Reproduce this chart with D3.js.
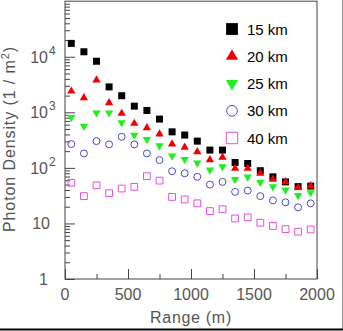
<!DOCTYPE html>
<html>
<head>
<meta charset="utf-8">
<script src="https://cdn.jsdelivr.net/npm/d3@7"></script>
<style>
    html, body { margin: 0; padding: 0; background: #fff; }
    svg { display: block; }
    .tick-label { font-family: "Liberation Sans", Arial, sans-serif; fill: #555; }
    .axis-title { font-family: "Liberation Sans", Arial, sans-serif; fill: #555; font-size: 16px; }
    .legend-label { font-family: "Liberation Sans", Arial, sans-serif; fill: #000; font-size: 15px; }
</style>
</head>
<body>
<div id="chart"></div>
<script>
const ranges = [50, 150, 250, 350, 450, 550, 650, 750, 850, 950, 1050, 1150, 1250, 1350, 1450, 1550, 1650, 1750, 1850, 1950];

const km15 = [17400, 12300, 8300, 2870, 1990, 1290, 1080, 755, 445, 390, 303, 209, 209, 125, 120, 89, 69, 56, 46, 47];
const km20 = [2400, 1820, 3800, 1480, 955, 630, 525, 405, 268, 234, 195, 140, 155, 98, 98, 80, 62, 56, 44, 47];
const km25 = [810, 565, 980, 980, 650, 390, 325, 250, 165, 142, 123, 92, 105, 62, 69, 55, 46, 40, 32, 36];
const km30 = [268, 182, 303, 265, 363, 265, 182, 138, 87, 80, 69, 50, 56, 37, 39, 31, 26, 24, 19.5, 23];
const km40 = [54, 31, 48.5, 35, 42.5, 45.5, 71, 59, 30, 27, 23, 16.7, 18, 12.3, 12.9, 10.3, 9, 7.9, 7.1, 7.8];

const seriesNames = ["15 km", "20 km", "25 km", "30 km", "40 km"];

const xTicks = [0, 500, 1000, 1500, 2000];
const xMinorTicks = [250, 750, 1250, 1750];
const yTickExponents = [0, 1, 2, 3, 4];

const width = 343;
const height = 331;

const x = d3.scaleLinear().domain([0, 2000]).range([65, 317]);
const y = d3.scaleLog().domain([1, 1e5]).range([279, 1.2]);

// marker styles per series
const styles = [
    { values: km15, shape: d3.symbolSquare, size: 49, legendSize: 140, fill: "#000", stroke: "none", rotate: 0 },
    { values: km20, shape: d3.symbolTriangle, size: 30, legendSize: 64, fill: "#f00000", stroke: "none", rotate: 0 },
    { values: km25, shape: d3.symbolTriangle, size: 30, legendSize: 64, fill: "#1ef01e", stroke: "none", rotate: 180 },
    { values: km30, shape: d3.symbolCircle, size: 38, legendSize: 90, fill: "none", stroke: "#4a4ac8", rotate: 0 },
    { values: km40, shape: d3.symbolSquare, size: 46, legendSize: 130, fill: "none", stroke: "#e050e0", rotate: 0 }
];

const svg = d3.select("#chart")
    .append("svg")
    .attr("width", width)
    .attr("height", height);

// outer picture border
svg.append("line")
    .attr("x1", 342.5).attr("x2", 342.5)
    .attr("y1", 0).attr("y2", 329)
    .attr("stroke", "#999")
    .attr("stroke-width", 1);

svg.append("line")
    .attr("x1", 0).attr("x2", 343)
    .attr("y1", 329.5).attr("y2", 329.5)
    .attr("stroke", "#000")
    .attr("stroke-width", 2);

// plot frame
svg.append("rect")
    .attr("x", x(0))
    .attr("y", y(1e5))
    .attr("width", x(2000) - x(0))
    .attr("height", y(1) - y(1e5))
    .attr("fill", "none")
    .attr("stroke", "#444")
    .attr("stroke-width", 1);

// x ticks (inside, pointing up)
const xAxis = d3.axisBottom(x).tickValues(xTicks).tickSize(-10).tickFormat("");
svg.append("g")
    .attr("transform", `translate(0, ${y(1)})`)
    .call(xAxis)
    .call(g => g.select(".domain").remove())
    .call(g => g.selectAll("line").attr("stroke", "#444"));

const xMinorAxis = d3.axisBottom(x).tickValues(xMinorTicks).tickSize(-5).tickFormat("");
svg.append("g")
    .attr("transform", `translate(0, ${y(1)})`)
    .call(xMinorAxis)
    .call(g => g.select(".domain").remove())
    .call(g => g.selectAll("line").attr("stroke", "#444"));

svg.selectAll(".x-label")
    .data(xTicks)
    .enter()
    .append("text")
    .attr("class", "tick-label x-label")
    .attr("x", d => x(d))
    .attr("y", 300)
    .attr("text-anchor", "middle")
    .attr("font-size", 16)
    .text(d => d);

// y ticks (inside, pointing right)
const yMajor = yTickExponents.map(e => Math.pow(10, e));
const yMinor = [];
[0, 1, 2, 3, 4].forEach(e => {
    for (let m = 2; m <= 9; m++) yMinor.push(m * Math.pow(10, e));
});

svg.append("g")
    .attr("transform", `translate(${x(0)}, 0)`)
    .call(d3.axisLeft(y).tickValues(yMajor).tickSize(-10).tickFormat(""))
    .call(g => g.select(".domain").remove())
    .call(g => g.selectAll("line").attr("stroke", "#444"));

svg.append("g")
    .attr("transform", `translate(${x(0)}, 0)`)
    .call(d3.axisLeft(y).tickValues(yMinor).tickSize(-5).tickFormat(""))
    .call(g => g.select(".domain").remove())
    .call(g => g.selectAll("line").attr("stroke", "#444"));

const yLabels = svg.selectAll(".y-label")
    .data(yTickExponents)
    .enter()
    .append("g")
    .attr("class", "y-label")
    .attr("transform", d => `translate(0, ${y(Math.pow(10, d))})`);

yLabels.append("text")
    .attr("class", "tick-label")
    .attr("x", d => d === 0 ? 48 : (d === 1 ? 50 : 48))
    .attr("y", 6)
    .attr("text-anchor", "end")
    .attr("font-size", 16)
    .text(d => d === 0 ? "1" : "10");

yLabels.filter(d => d >= 2)
    .append("text")
    .attr("class", "tick-label")
    .attr("x", 49)
    .attr("y", -2)
    .attr("font-size", 12)
    .text(d => d);

// axis titles
svg.append("text")
    .attr("class", "axis-title")
    .attr("text-anchor", "middle")
    .attr("x", 191)
    .attr("y", 323)
    .attr("letter-spacing", 0.7)
    .text("Range (m)");

const yTitle = svg.append("text")
    .attr("class", "axis-title")
    .attr("text-anchor", "middle")
    .attr("letter-spacing", 0.9)
    .attr("transform", "translate(15, 139) rotate(-90)");

yTitle.append("tspan").text("Photon Density (1 / m");
yTitle.append("tspan").attr("dy", -6).attr("font-size", 11).text("2");
yTitle.append("tspan").attr("dy", 6).text(")");

// data markers
styles.forEach(s => {
    const sym = d3.symbol().type(s.shape).size(s.size);
    svg.append("g")
        .selectAll("path")
        .data(s.values)
        .enter()
        .append("path")
        .attr("d", sym)
        .attr("transform", (d, i) => `translate(${x(ranges[i])}, ${y(d)}) rotate(${s.rotate})`)
        .attr("fill", s.fill)
        .attr("stroke", s.stroke)
        .attr("stroke-width", 1);
});

// legend
const legend = svg.append("g");
const legendY = d3.scalePoint().domain(seriesNames).range([29, 138]);

seriesNames.forEach((name, i) => {
    const s = styles[i];
    legend.append("path")
        .attr("d", d3.symbol().type(s.shape).size(s.legendSize))
        .attr("transform", `translate(232, ${legendY(name)}) rotate(${s.rotate})`)
        .attr("fill", s.fill)
        .attr("stroke", s.stroke)
        .attr("stroke-width", 1);

    legend.append("text")
        .attr("class", "legend-label")
        .attr("x", 247)
        .attr("y", legendY(name) + 5.5)
        .text(name);
});
</script>
</body>
</html>
